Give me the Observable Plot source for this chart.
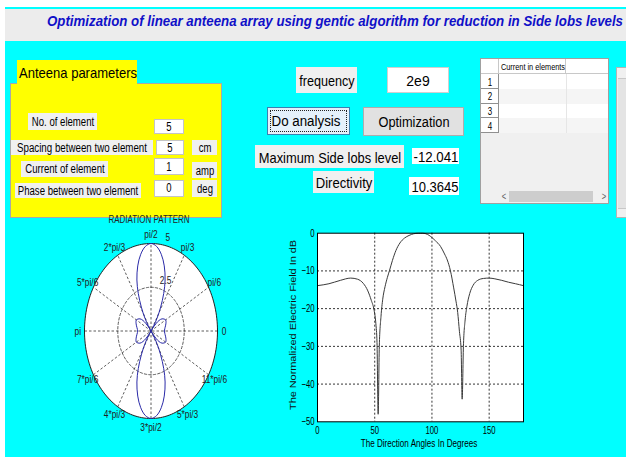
<!DOCTYPE html>
<html><head><meta charset="utf-8">
<script src="https://cdn.jsdelivr.net/npm/d3@7"></script>
<script src="https://cdn.jsdelivr.net/npm/@observablehq/plot@0.6"></script>
<style>
html,body{margin:0;padding:0;}
body{width:626px;height:457px;position:relative;overflow:hidden;background:#fff;font-family:"Liberation Sans",Arial,sans-serif;}
.abs{position:absolute;box-sizing:border-box;}
.t{position:absolute;white-space:nowrap;line-height:1;transform-origin:50% 50%;}
</style></head><body>
<script>
// ---------------- data ----------------
const titleText = "Optimization of linear anteena array using gentic algorithm for reduction in Side lobs levels";
const panelTitle = "Anteena parameters";
const parameterNames = ["No. of element", "Spacing between two element", "Current of element", "Phase between two element"];
const parameterValues = ["5", "5", "1", "0"];
const parameterUnits = ["", "cm", "amp", "deg"];
const frequencyValue = "2e9";
const maxSideLobeLevel = "-12.041";
const directivityValue = "10.3645";
const tableHeader = "Current in elements";
const tableRows = ["1", "2", "3", "4"];

// normalized field (dB) vs direction angle (deg)
const dirAngles = [0, 10, 20, 29, 35, 40, 44, 47, 49.5, 51, 52, 53, 54, 55.5, 57, 59, 61, 63, 65.5, 68.5, 72, 76, 80, 84, 88, 90, 92, 96, 99, 103, 107.5, 111, 113.4, 116.2, 119, 121, 122.5, 124, 125.5, 126.4, 127.5, 129, 130.5, 133, 136, 140, 145, 150, 155, 161, 167, 173, 180];
const fieldDb   = [-13.9, -13.4, -12.5, -11.9, -12.2, -13.3, -15.3, -17.8, -20.5, -24, -29, -48, -30, -22, -17.5, -14.2, -11.8, -9.8, -7.2, -4.6, -2.6, -1.3, -0.6, -0.15, 0, 0, 0, -0.3, -0.9, -2.0, -3.5, -5.5, -7.1, -10, -14.5, -18, -21, -26, -31, -44, -30, -23, -19.5, -16, -13.8, -12.5, -12.0, -11.9, -12.1, -12.5, -13.0, -13.4, -13.9];
const xTicks = [0, 50, 100, 150];
const yTicks = [0, -10, -20, -30, -40, -50];

// radiation pattern magnitude (0..5) vs angle (deg)
const polarAngles = [0, 10, 20, 30, 40, 45, 48, 51, 53, 55, 58, 62, 66, 70, 75, 80, 85, 90, 95, 100, 105, 110, 114, 118, 122, 125, 127, 129, 132, 135, 140, 150, 160, 170, 180,
  190, 200, 210, 220, 225, 228, 231, 233, 235, 238, 242, 246, 250, 255, 260, 265, 270, 275, 280, 285, 290, 294, 298, 302, 305, 307, 309, 312, 315, 320, 330, 340, 350, 360];
const polarMagnitudes = [1.0, 1.07, 1.19, 1.27, 1.08, 0.85, 0.6, 0.3, 0, 0.35, 0.85, 1.55, 2.35, 3.1, 3.85, 4.45, 4.85, 5, 4.85, 4.45, 3.85, 3.1, 2.35, 1.55, 0.85, 0.35, 0, 0.3, 0.6, 0.85, 1.08, 1.27, 1.19, 1.07, 1.0,
  1.07, 1.19, 1.27, 1.08, 0.85, 0.6, 0.3, 0, 0.35, 0.85, 1.55, 2.35, 3.1, 3.85, 4.45, 4.85, 5, 4.85, 4.45, 3.85, 3.1, 2.35, 1.55, 0.85, 0.35, 0, 0.3, 0.6, 0.85, 1.08, 1.27, 1.19, 1.07, 1.0];
const polarAngleLabels = ["0", "pi/6", "pi/3", "pi/2", "2*pi/3", "5*pi/6", "pi", "7*pi/6", "4*pi/3", "3*pi/2", "5*pi/3", "11*pi/6"];
const polarLabelAngles = [0, 30, 60, 90, 120, 150, 180, 210, 240, 270, 300, 330];
const polarRingValues = [2.5, 5];
const polarRadiusMax = 5;

// ---------------- helpers ----------------
const FONT = '"Liberation Sans", Arial, sans-serif';
const ctx = document.createElement("canvas").getContext("2d");
function measure(str, size, weight, style) {
  ctx.font = `${style || "normal"} ${weight || "normal"} ${size}px "Liberation Sans", Arial, sans-serif`;
  return ctx.measureText(str).width;
}
function box(x, y, w, h, css) {
  const d = document.createElement("div");
  d.className = "abs";
  Object.assign(d.style, {left: x + "px", top: y + "px", width: w + "px", height: h + "px"}, css || {});
  document.body.appendChild(d);
  return d;
}
function txt(str, cx, cy, size, o) {
  o = o || {};
  const s = o.width ? o.width / measure(str, size, o.weight, o.style) : (o.scale || 0.76);
  const sp = document.createElement("span");
  sp.className = "t";
  sp.textContent = str;
  Object.assign(sp.style, {
    left: cx + "px", top: cy + "px", fontSize: size + "px",
    fontWeight: o.weight || "normal", fontStyle: o.style || "normal",
    color: o.color || "#000",
    transform: `translate(-50%,-50%) scaleX(${s})`
  });
  document.body.appendChild(sp);
  return sp;
}
function vtxt(str, cx, cy, size, length, squeeze, color) {
  // rotated text: its length runs vertically, the glyph height is squeezed horizontally
  const sp = document.createElement("span");
  sp.className = "t";
  sp.textContent = str;
  const ls = (length - measure(str, size)) / str.length;
  Object.assign(sp.style, {
    left: cx + "px", top: cy + "px", fontSize: size + "px", letterSpacing: ls + "px",
    color: color || "#000",
    transform: `translate(-50%,-50%) scaleX(${squeeze}) rotate(-90deg)`
  });
  document.body.appendChild(sp);
}
function squeezeSvgText(svg, s) {
  svg.querySelectorAll("text").forEach(t => {
    const x = +(t.getAttribute("x") || 0);
    const tr = t.getAttribute("transform") || "";
    t.setAttribute("transform", `${tr} translate(${x},0) scale(${s},1) translate(${-x},0)`);
  });
}

// ---------------- background ----------------
box(5, 7, 621, 450, {background: "#00ffff"});
box(5, 9, 621, 32, {background: "#ececec"});
txt(titleText, 334.5, 20, 15, {width: 576, weight: "bold", style: "italic", color: "#1010c8"});

// ---------------- parameters panel ----------------
box(10, 83, 212, 135, {background: "#ffff00", border: "1px solid #a8a8a8"});
box(17, 60, 120, 24, {background: "#ffff00"});
txt(panelTitle, 78, 72, 15, {width: 118});

const labelBoxes = [
  {x: 27.7, y: 113.3, w: 69, h: 16.7, tx0: 31.7, tx1: 94},
  {x: 11, y: 140, w: 142.3, h: 15, tx0: 16.7, tx1: 146.7},
  {x: 20.7, y: 161, w: 87.6, h: 15.7, tx0: 25, tx1: 104.3},
  {x: 15, y: 182.7, w: 126, h: 15.6, tx0: 17.3, tx1: 137.7}
];
const valueBoxes = [
  {x: 154.3, y: 119, w: 29.7, h: 15},
  {x: 155.7, y: 140, w: 28.3, h: 15},
  {x: 154.3, y: 158.3, w: 30, h: 16.7},
  {x: 154.3, y: 180, w: 30, h: 16.7}
];
const unitBoxes = [null,
  {x: 191.7, y: 140, w: 25.6, h: 15},
  {x: 191.7, y: 161.7, w: 25.6, h: 16.6},
  {x: 191.7, y: 180, w: 25.6, h: 16.7}
];
parameterNames.forEach((name, i) => {
  const b = labelBoxes[i];
  box(b.x, b.y, b.w, b.h, {background: "#f0f0f0"});
  txt(name, (b.tx0 + b.tx1) / 2, b.y + b.h / 2, 12.5, {width: b.tx1 - b.tx0});
  const v = valueBoxes[i];
  box(v.x, v.y, v.w, v.h, {background: "#fff", border: "1px solid #c4c4c4"});
  txt(parameterValues[i], v.x + v.w / 2, v.y + v.h / 2, 12.5);
  const u = unitBoxes[i];
  if (u) {
    box(u.x, u.y, u.w, u.h, {background: "#f0f0f0"});
    txt(parameterUnits[i], u.x + u.w / 2, u.y + u.h / 2 + 0.5, 12.5);
  }
});
txt("RADIATION PATTERN", 149, 219.5, 10, {width: 81, color: "#222"});

// ---------------- middle controls ----------------
box(296, 67.3, 61.3, 26, {background: "#f0f0f0"});
txt("frequency", 326.7, 79.5, 15, {width: 55.3});
box(386.7, 67.3, 62.6, 25.4, {background: "#fff", border: "1px solid #d0d0d0"});
txt(frequencyValue, 418.3, 80, 15, {width: 23.3});

box(267.3, 106.7, 82.7, 28.3, {background: "#e5f1fb", border: "1px solid #3c7fb1"});
box(270.3, 109.7, 76.7, 22.3, {border: "1px dotted #222"});
txt("Do analysis", 306.2, 121, 15.5, {width: 69});
box(363.3, 107.3, 101, 28.7, {background: "#e1e1e1", border: "1px solid #adadad"});
txt("Optimization", 413.8, 122, 15.5, {width: 71});

box(255, 145, 149, 23.3, {background: "#f0f0f0"});
txt("Maximum Side lobs level", 329.5, 157, 15, {width: 142.4});
box(412.3, 147.7, 47, 16.6, {background: "#fff"});
txt(maxSideLobeLevel, 435.5, 156.3, 15, {width: 45});
box(313.3, 170.7, 60.7, 22, {background: "#f0f0f0"});
txt("Directivity", 344, 181.5, 15, {width: 56.6});
box(409.3, 177.3, 50, 17.7, {background: "#fff"});
txt(directivityValue, 434.5, 186.3, 15, {width: 47});

// ---------------- table ----------------
box(480, 58, 129, 146, {background: "#f0f0f0", border: "1px solid #a0a0a0"});
box(481, 59, 18, 15, {background: "#fff", borderRight: "1px solid #c8c8c8", borderBottom: "1px solid #c8c8c8"});
box(499, 59, 67, 15, {background: "#fff", borderRight: "1px solid #c8c8c8", borderBottom: "1px solid #c8c8c8"});
box(566, 59, 42, 15, {background: "#fff", borderBottom: "1px solid #c8c8c8"});
txt(tableHeader, 533, 66.5, 9.5, {width: 64});
tableRows.forEach((r, i) => {
  const y = 74 + i * 14.8;
  box(481, y, 18, 14.8, {background: "#fff", borderRight: "1px solid #909090", borderBottom: "1px solid #909090"});
  txt(r, 489.5, y + 7.6, 10.5);
  box(499, y, 109, 14.8, {background: i % 2 ? "#f5f5f5" : "#fff"});
  box(566, y, 1, 14.8, {background: "#e6e6e6"});
});
box(499, 190, 109, 13, {background: "#f0f0f0"});
box(509, 191, 84, 11, {background: "#cdcdcd"});
txt("<", 503.5, 196.5, 10, {color: "#606060"});
txt(">", 603.5, 196.5, 10, {color: "#606060"});

box(616, 67, 12, 151, {background: "#f0f0f0", border: "1px solid #b4b4b4"});
box(618, 78, 10, 131, {background: "#e4e4e4", borderTop: "1px solid #c8c8c8", borderBottom: "1px solid #c8c8c8"});

// ---------------- polar radiation pattern ----------------
const rad = a => a * Math.PI / 180;
const ring = d3.range(0, 361, 2);
const spokes = [0, 30, 60, 90, 120, 150];
const polarData = polarAngles.map((a, i) => ({a, r: polarMagnitudes[i]}));
const polarLabels = polarLabelAngles.map((a, i) => ({a, label: polarAngleLabels[i]}));
const polar = Plot.plot({
  width: 181, height: 220,
  marginLeft: 24, marginRight: 24, marginTop: 21, marginBottom: 24,
  x: {domain: [-polarRadiusMax, polarRadiusMax], axis: null},
  y: {domain: [-polarRadiusMax, polarRadiusMax], axis: null},
  style: {background: "transparent", fontFamily: FONT, fontSize: "11px", color: "#000", overflow: "visible"},
  marks: [
    Plot.line(ring, {x: a => polarRadiusMax * Math.cos(rad(a)), y: a => polarRadiusMax * Math.sin(rad(a)), fill: "white", stroke: "none"}),
    Plot.link(spokes, {
      x1: a => -polarRadiusMax * Math.cos(rad(a)), y1: a => -polarRadiusMax * Math.sin(rad(a)),
      x2: a => polarRadiusMax * Math.cos(rad(a)), y2: a => polarRadiusMax * Math.sin(rad(a)),
      stroke: "#333", strokeWidth: 0.8, strokeDasharray: "2.5,2"
    }),
    Plot.line(ring, {x: a => 2.5 * Math.cos(rad(a)), y: a => 2.5 * Math.sin(rad(a)), stroke: "#333", strokeWidth: 0.8, strokeDasharray: "2.5,2"}),
    Plot.line(ring, {x: a => polarRadiusMax * Math.cos(rad(a)), y: a => polarRadiusMax * Math.sin(rad(a)), stroke: "#222", strokeWidth: 1}),
    Plot.line(polarData, {x: d => d.r * Math.cos(rad(d.a)), y: d => d.r * Math.sin(rad(d.a)), stroke: "#2a2aa8", strokeWidth: 1, curve: "catmull-rom"}),
    Plot.text(polarLabels, {x: d => 5.5 * Math.cos(rad(d.a)), y: d => 5.5 * Math.sin(rad(d.a)), text: "label", fill: "#222"}),
    Plot.text(polarRingValues, {x: r => r * Math.cos(rad(80)), y: r => r * Math.sin(rad(80)), text: r => String(r), textAnchor: "start", dx: 3, dy: -7, fill: "#222"})
  ]
});
squeezeSvgText(polar, 0.76);
Object.assign(polar.style, {position: "absolute", left: "60px", top: "222px"});
document.body.appendChild(polar);

// ---------------- dB chart ----------------
const dbData = dirAngles.map((a, i) => ({angle: a, db: fieldDb[i]}));
const dbChart = Plot.plot({
  width: 260, height: 235,
  marginLeft: 42, marginRight: 12, marginTop: 10.7, marginBottom: 35.7,
  style: {background: "transparent", fontFamily: FONT, fontSize: "11px", color: "#000", overflow: "visible"},
  x: {domain: [0, 180]},
  y: {domain: [-50, 0]},
  marks: [
    Plot.frame({fill: "white", stroke: null}),
    Plot.ruleX(xTicks.filter(t => t > 0), {stroke: "#000", strokeWidth: 0.8, strokeDasharray: "2,2"}),
    Plot.ruleY(yTicks.filter(t => t > -50 && t < 0), {stroke: "#000", strokeWidth: 0.8, strokeDasharray: "2,2"}),
    Plot.line(dbData, {x: "angle", y: "db", stroke: "#3a3a3a", strokeWidth: 1, curve: "monotone-x"}),
    Plot.frame({stroke: "#000"}),
    Plot.axisX({ticks: xTicks, tickSize: 0, tickPadding: 4, label: null}),
    Plot.axisY({ticks: yTicks, tickSize: 0, tickPadding: 3, label: null})
  ]
});
squeezeSvgText(dbChart, 0.7);
Object.assign(dbChart.style, {position: "absolute", left: "275px", top: "222px"});
document.body.appendChild(dbChart);
txt("The Direction Angles In Degrees", 419, 443, 11, {width: 117});
vtxt("The Normalized Electric Field In dB", 293, 325, 11, 170, 0.76, "#111");
</script>
</body></html>
